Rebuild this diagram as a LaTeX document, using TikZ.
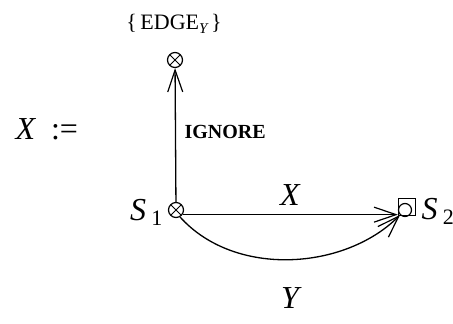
\documentclass[tikz,border=0pt]{standalone}
\usepackage{fontspec}
\setmainfont{Liberation Serif}
\usetikzlibrary{arrows.meta}
\tikzset{
  otimes/.style={circle,draw,line width=1.2pt,minimum size=15pt,inner sep=0pt,
    path picture={\draw[line width=1pt] (path picture bounding box.north west) -- (path picture bounding box.south east)
      (path picture bounding box.north east) -- (path picture bounding box.south west);}},
  conn/.style={line width=1.3pt,-{Straight Barb[length=22pt,width=15pt,line width=1.2pt]}},
  big/.style={font=\fontsize{32}{36}\selectfont\itshape},
  lbl/.style={font=\fontsize{20}{24}\selectfont\bfseries},
}
\begin{document}
\begin{tikzpicture}[x=1pt,y=-1pt]
\useasboundingbox (0,0) rectangle (453,324);
\node[otimes] (top) at (175,60) {};
\node[otimes] (s1) at (176,210) {};
\node[draw,line width=1.2pt,minimum size=17pt,inner sep=0pt] (s2) at (407,207) {};
\node[circle,draw,line width=1.2pt,minimum size=13pt,inner sep=0pt] (s2c) at (405,210) {};
\node[font=\fontsize{22}{24}\selectfont,anchor=base] (edge) at (174,29) {\{\,EDGE\raisebox{-4pt}{\fontsize{15}{16}\selectfont\itshape Y}\,\}};
\node[lbl,anchor=base west] (ign) at (181,138) {IGNORE};
\node[big,anchor=base west] (xdef) at (12,139) {X\ \ \upshape:=};
\node[big,anchor=base east] (s1l) at (166,220) {S\,\raisebox{-5pt}{\fontsize{22}{24}\selectfont\upshape 1}};
\node[big,anchor=base west] (s2l) at (418,219) {S\,\raisebox{-5pt}{\fontsize{22}{24}\selectfont\upshape 2}};
\node[big,anchor=base] (xl) at (290,205) {X};
\node[big,anchor=base] (yl) at (290,308) {Y};
\draw[conn] (s1) -- (top);
\draw[conn] (s1.-35) -- (s1.-35 -| s2c.west);
\draw[conn] (s1.-60) .. controls (235,278) and (345,270) .. (s2c.south west);
\end{tikzpicture}
\end{document}
